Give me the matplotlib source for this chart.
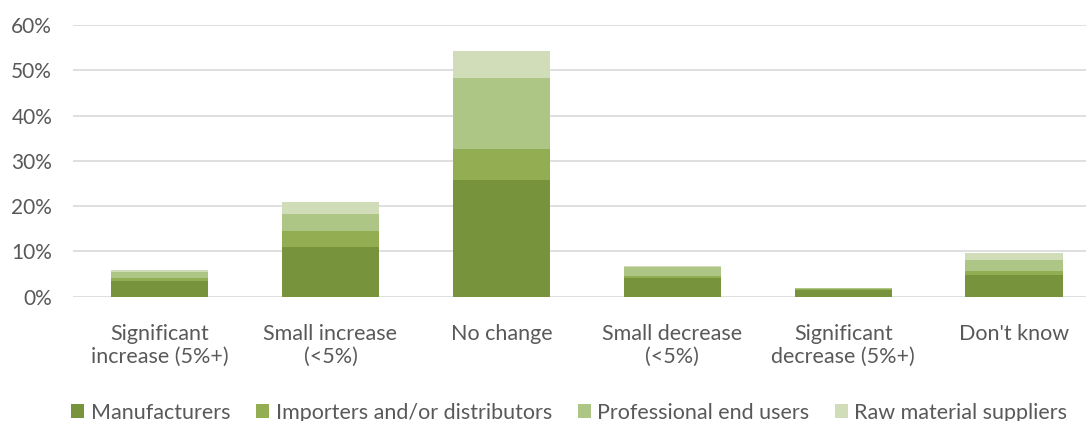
import matplotlib.pyplot as plt
import numpy as np
from matplotlib.ticker import PercentFormatter

categories = ["Significant\nincrease (5%+)", "Small increase\n(<5%)", "No change",
              "Small decrease\n(<5%)", "Significant\ndecrease (5%+)", "Don't know"]
series = ["Manufacturers", "Importers and/or distributors",
          "Professional end users", "Raw material suppliers"]
manufacturers = [3.4, 11.0, 25.7, 4.2, 1.5, 4.7]
importers = [0.8, 3.4, 6.9, 0.3, 0.3, 0.9]
professional = [1.3, 3.9, 15.6, 2.0, 0.1, 2.6]
raw_material = [0.4, 2.6, 6.0, 0.2, 0.0, 1.5]
colors = ["#77933C", "#92AD52", "#ADC585", "#D0DDB8"]

plt.rcParams['font.family'] = ['Lato', 'DejaVu Sans']
text_color = "#595959"

fig = plt.figure(figsize=(10.86, 4.21), dpi=100)
ax = fig.add_axes([73 / 1086, 1 - 296.7 / 421, 1 - 73 / 1086, (296.7 - 25) / 421])

x = np.arange(len(categories))
bottom = np.zeros(len(categories))
for name, vals, c in zip(series, [manufacturers, importers, professional, raw_material], colors):
    vals = np.array(vals)
    ax.bar(x, vals, 0.57, bottom=bottom, color=c, label=name, zorder=3)
    bottom += vals

ax.set_ylim(0, 60)
ax.set_xlim(-0.506, 5.42)
ax.set_yticks(np.arange(0, 61, 10))
ax.yaxis.set_major_formatter(PercentFormatter(decimals=0))
ax.grid(axis='y', color='#D9D9D9', linewidth=1.2, zorder=0)
for s in ax.spines.values():
    s.set_visible(False)
ax.set_xticks(x)
ax.set_xticklabels(categories, fontsize=15.5, color=text_color, linespacing=1.15)
ax.tick_params(axis='x', length=0, pad=20)
ax.tick_params(axis='y', length=0, labelsize=15, labelcolor=text_color, pad=15)

ax.legend(ncol=4, loc='lower center', bbox_to_anchor=(0.49, -0.535), frameon=False,
          fontsize=15.5, labelcolor=text_color, handlelength=0.6, handleheight=0.6,
          handletextpad=0.3, columnspacing=1.2)

fig.savefig("out.png", dpi=100)
